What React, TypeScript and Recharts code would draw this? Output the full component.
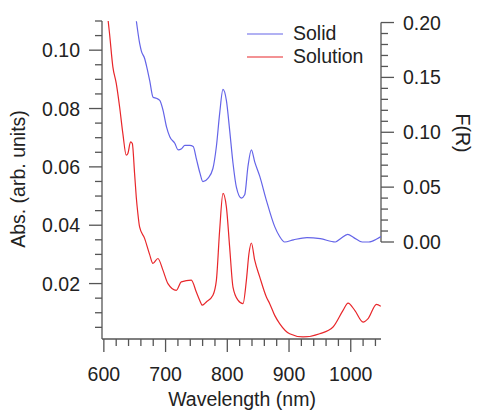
import { LineChart, Line, XAxis, YAxis, Legend, ReferenceLine, Label } from 'recharts';

// Solid: diffuse reflectance F(R), right axis
const solidWavelength = [
  652.7, 658, 660.8, 666.2, 668.9, 674.3, 679.7, 685.2, 690.6, 695.9, 701.5, 706.8, 714.9, 720.3,
  725.9, 731.2, 739.3, 744.7, 750.2, 755.6, 760.5, 768.6, 776.7, 782.3, 787.6, 793, 798.5, 803.8,
  809.2, 814.7, 822.8, 828.2, 833.5, 839, 844.4, 852.5, 863.3, 876.8, 884.8, 892.9, 907.3, 929.1,
  950.7, 975.1, 983.3, 995.1, 1004.9, 1018.5, 1029.3, 1042.9, 1049,
];
const solidFR = [
  0.2012, 0.181, 0.174, 0.167, 0.161, 0.147, 0.132, 0.131, 0.129, 0.12, 0.105, 0.096, 0.09, 0.084,
  0.085, 0.088, 0.088, 0.087, 0.075, 0.063, 0.055, 0.058, 0.067, 0.087, 0.117, 0.139, 0.129, 0.102,
  0.072, 0.05, 0.04, 0.043, 0.069, 0.084, 0.073, 0.06, 0.038, 0.014, 0.005, 0.0, 0.002, 0.004,
  0.003, 0.0, 0.003, 0.007, 0.004, 0.0, 0.0, 0.003, 0.005,
];

// Solution: absorbance, left axis
const solutionWavelength = [
  607, 609.2, 614.6, 620.1, 625.5, 630.8, 636.3, 638.9, 643.3, 646.1, 649.8, 652.5, 655.1, 657.9,
  666, 674.1, 679.5, 687.6, 695.7, 703.8, 717.4, 725.5, 741.7, 749.8, 755.2, 759.6, 766, 776.7,
  782.3, 787.6, 793, 798.5, 803.8, 809.2, 817.3, 825.4, 830.9, 835.1, 839, 844.4, 852.5, 863.3,
  868.7, 876.8, 884.8, 901, 922.7, 949.6, 971.3, 987.5, 995.6, 1006.5, 1020, 1028.1, 1041.7, 1048.7,
];
const solutionAbs = [
  0.11, 0.1057, 0.0943, 0.0886, 0.0806, 0.0714, 0.064, 0.0646, 0.0686, 0.068, 0.0577, 0.0497, 0.044, 0.0394,
  0.0355, 0.03, 0.0269, 0.0286, 0.0246, 0.02, 0.0177, 0.0206, 0.0212, 0.0171, 0.0143, 0.0126, 0.0137, 0.016,
  0.0211, 0.0383, 0.0509, 0.0463, 0.0325, 0.0188, 0.0143, 0.0131, 0.0211, 0.0303, 0.0339, 0.028, 0.0223, 0.0154,
  0.0131, 0.0091, 0.0063, 0.0028, 0.0017, 0.0028, 0.0051, 0.0108, 0.0133, 0.0108, 0.0068, 0.008, 0.0129, 0.0122,
];

const xTicks = [
  600, 620, 640, 660, 680, 700, 720, 740, 760, 780, 800, 820, 840, 860, 880, 900, 920, 940, 960, 980,
  1000, 1020, 1040,
];
const absTicks = [
  0.005, 0.01, 0.015, 0.02, 0.025, 0.03, 0.035, 0.04, 0.045, 0.05, 0.055, 0.06, 0.065, 0.07, 0.075,
  0.08, 0.085, 0.09, 0.095, 0.1, 0.105, 0.11,
];
const frTicks = [
  0, 0.01, 0.02, 0.03, 0.04, 0.05, 0.06, 0.07, 0.08, 0.09, 0.1, 0.11, 0.12, 0.13, 0.14, 0.15, 0.16,
  0.17, 0.18, 0.19, 0.2,
];

const solidData = solidWavelength.map((w, i) => ({ w, v: solidFR[i] }));
const solutionData = solutionWavelength.map((w, i) => ({ w, v: solutionAbs[i] }));

const AXIS = '#555';
const TEXT = '#222';
const FONT = '"Liberation Sans", Arial, Helvetica, sans-serif';
const FS = 19.5;

function BottomTick({ x, y, payload }: any) {
  const v = payload.value;
  const major = v % 100 === 0;
  return (
    <g>
      <line x1={x} x2={x} y1={y} y2={y + (major ? 13 : 7)} stroke={AXIS} strokeWidth={1.3} />
      {major && (
        <text x={x} y={y + 42} textAnchor="middle" fill={TEXT} fontSize={FS} fontFamily={FONT}>
          {v}
        </text>
      )}
    </g>
  );
}

function LeftTick({ x, y, payload }: any) {
  const v = payload.value;
  const major = Math.round(v * 1000) % 20 === 0;
  return (
    <g>
      <line x1={x - (major ? 13 : 7)} x2={x} y1={y} y2={y} stroke={AXIS} strokeWidth={1.3} />
      {major && (
        <text x={x - 22} y={y + 7} textAnchor="end" fill={TEXT} fontSize={FS} fontFamily={FONT}>
          {v.toFixed(2)}
        </text>
      )}
    </g>
  );
}

function RightTick({ x, y, payload }: any) {
  const v = payload.value;
  const major = Math.round(v * 100) % 5 === 0;
  return (
    <g>
      <line x1={x} x2={x + (major ? 13 : 7)} y1={y} y2={y} stroke={AXIS} strokeWidth={1.3} />
      {major && (
        <text x={x + 22} y={y + 7} textAnchor="start" fill={TEXT} fontSize={FS} fontFamily={FONT}>
          {v.toFixed(2)}
        </text>
      )}
    </g>
  );
}

function LegendBox({ payload }: any) {
  return (
    <div style={{ fontFamily: FONT, fontSize: FS, color: TEXT }}>
      {(payload || []).map((p: any) => (
        <div key={p.value} style={{ display: 'flex', alignItems: 'center', height: 23.3 }}>
          <svg width={36} height={4} style={{ marginRight: 10 }}>
            <line x1={0} x2={36} y1={2} y2={2} stroke={p.color} strokeWidth={1.2} />
          </svg>
          <span>{p.value}</span>
        </div>
      ))}
    </div>
  );
}

export default function App() {
  return (
    <div style={{ position: 'absolute', left: 0, top: 0, width: 479, height: 412, background: '#fff' }}>
      <LineChart width={479} height={412} margin={{ top: 21, right: 0, bottom: 0, left: 0 }}>
        <XAxis
          type="number"
          dataKey="w"
          domain={[597, 1049]}
          ticks={xTicks}
          interval={0}
          allowDataOverflow
          height={73}
          stroke={AXIS}
          strokeWidth={1.3}
          tickLine={false}
          tickSize={0}
          tickMargin={0}
          tick={<BottomTick />}
        >
          <Label
            content={() => (
              <text x={242} y={406} textAnchor="middle" fill={TEXT} fontSize={FS} fontFamily={FONT}>
                Wavelength (nm)
              </text>
            )}
          />
        </XAxis>
        <YAxis
          yAxisId="left"
          domain={[0.001, 0.11]}
          ticks={absTicks}
          interval={0}
          allowDataOverflow
          width={102}
          stroke={AXIS}
          strokeWidth={1.3}
          tickLine={false}
          tickSize={0}
          tickMargin={0}
          tick={<LeftTick />}
        >
          <Label
            content={() => (
              <text
                x={18}
                y={179}
                transform="rotate(-90 18 179)"
                textAnchor="middle"
                dominantBaseline="central"
                fill={TEXT}
                fontSize={FS}
                fontFamily={FONT}
              >
                Abs. (arb. units)
              </text>
            )}
          />
        </YAxis>
        <YAxis
          yAxisId="right"
          orientation="right"
          domain={[-0.0884, 0.2014]}
          ticks={frTicks}
          interval={0}
          allowDataOverflow
          width={98}
          axisLine={false}
          tickLine={false}
          tickSize={0}
          tickMargin={0}
          tick={<RightTick />}
        >
          <Label
            content={() => (
              <text
                x={463}
                y={133}
                transform="rotate(90 463 133)"
                textAnchor="middle"
                dominantBaseline="central"
                fill={TEXT}
                fontSize={FS}
                fontFamily={FONT}
              >
                F(R)
              </text>
            )}
          />
        </YAxis>
        <ReferenceLine
          yAxisId="right"
          segment={[
            { x: 1049, y: 0 },
            { x: 1049, y: 0.2 },
          ]}
          stroke={AXIS}
          strokeWidth={1.3}
        />
        <Legend
          layout="vertical"
          align="center"
          verticalAlign="middle"
          content={<LegendBox />}
          wrapperStyle={{ left: 247, top: 22, width: 160 }}
        />
        <Line
          yAxisId="right"
          data={solidData}
          dataKey="v"
          name="Solid"
          type="monotone"
          stroke="#6464e8"
          strokeWidth={1.2}
          dot={false}
          isAnimationActive={false}
        />
        <Line
          yAxisId="left"
          data={solutionData}
          dataKey="v"
          name="Solution"
          type="monotone"
          stroke="#e8262a"
          strokeWidth={1.2}
          dot={false}
          isAnimationActive={false}
        />
      </LineChart>
    </div>
  );
}
